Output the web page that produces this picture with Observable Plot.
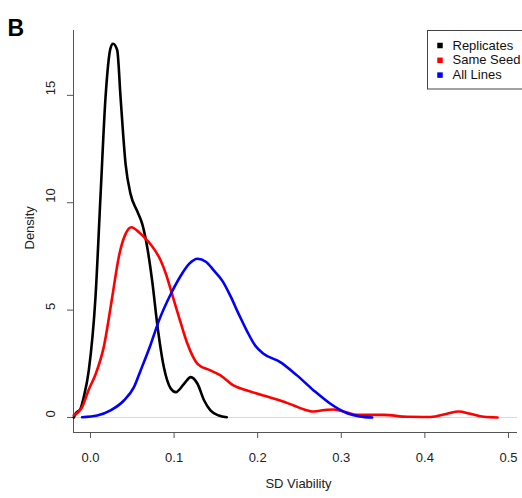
<!DOCTYPE html>
<html><head><meta charset="utf-8">
<script src="https://cdn.jsdelivr.net/npm/d3@7"></script>
<script src="https://cdn.jsdelivr.net/npm/@observablehq/plot@0.6"></script>
<style>html,body{margin:0;padding:0;background:#fff;overflow:hidden}</style>
</head><body><div id="chart"></div>
<script>
const seriesNames = ["Replicates", "Same Seed", "All Lines"];
const seriesColors = ["#000000", "#ff0000", "#0000ff"];

const replicatesX = [-0.020, -0.018, -0.012, -0.008, -0.002, 0.006, 0.012, 0.018, 0.024, 0.027, 0.032, 0.036, 0.042, 0.048, 0.056, 0.062, 0.068, 0.074, 0.080, 0.088, 0.096, 0.102, 0.112, 0.120, 0.128, 0.136, 0.1435, 0.1535, 0.163];
const replicatesY = [0.0, 0.17, 0.4, 0.95, 2.19, 5.6, 10.3, 14.9, 17.2, 17.4, 17.1, 14.9, 11.8, 10.4, 9.6, 9.0, 7.9, 6.3, 4.3, 2.3, 1.35, 1.18, 1.57, 1.88, 1.57, 0.79, 0.33, 0.09, 0.01];

const sameSeedX = [-0.020, -0.010, -0.002, 0.006, 0.016, 0.026, 0.034, 0.042, 0.049, 0.058, 0.068, 0.076, 0.084, 0.091, 0.097, 0.108, 0.116, 0.128, 0.1435, 0.1555, 0.171, 0.1875, 0.207, 0.227, 0.243, 0.255, 0.267, 0.283, 0.291, 0.305, 0.319, 0.351, 0.379, 0.407, 0.4265, 0.4405, 0.4545, 0.4705, 0.487];
const sameSeedY = [0.1, 0.48, 1.3, 2.0, 3.3, 5.6, 7.5, 8.55, 8.86, 8.63, 8.24, 7.85, 7.31, 6.6, 5.82, 4.4, 3.43, 2.5, 2.19, 1.96, 1.49, 1.26, 1.02, 0.79, 0.56, 0.38, 0.28, 0.36, 0.37, 0.25, 0.12, 0.12, 0.03, 0.02, 0.17, 0.28, 0.17, 0.03, 0.0];

const allLinesX = [-0.010, 0.008, 0.024, 0.040, 0.052, 0.060, 0.072, 0.082, 0.097, 0.108, 0.118, 0.128, 0.138, 0.1475, 0.158, 0.1675, 0.1775, 0.1875, 0.197, 0.207, 0.227, 0.247, 0.267, 0.287, 0.307, 0.322, 0.337];
const allLinesY = [0.01, 0.09, 0.33, 0.79, 1.41, 2.19, 3.4, 4.52, 5.82, 6.6, 7.15, 7.39, 7.25, 6.85, 6.35, 5.65, 4.8, 4.0, 3.35, 2.97, 2.58, 1.96, 1.26, 0.64, 0.2, 0.05, 0.0];

const xTicks = [0, 0.1, 0.2, 0.3, 0.4, 0.5];
const xTickLabels = ["0.0", "0.1", "0.2", "0.3", "0.4", "0.5"];
const yTicks = [0, 5, 10, 15];
const yTickLabels = ["0", "5", "10", "15"];

const seriesXs = [replicatesX, sameSeedX, allLinesX];
const seriesYs = [replicatesY, sameSeedY, allLinesY];
const rows = [];
seriesNames.forEach((name, s) => {
  seriesXs[s].forEach((x, i) => rows.push({series: name, x, y: seriesYs[s][i]}));
});

const xDomain = [-0.0203, 0.5108];
const yDomain = [-0.70, 18.02];

const legendBox = (index, scales, values, dims) => {
  const g = d3.create("svg:g");
  const left = dims.width - dims.marginRight - 90;
  g.append("rect")
    .attr("x", left + 0.5).attr("y", dims.marginTop + 0.5)
    .attr("width", 120).attr("height", 58.5)
    .attr("fill", "none").attr("stroke", "#444").attr("stroke-width", 1);
  return g.node();
};

const legendMarks = seriesNames.flatMap((name, i) => [
  Plot.dot([name], {frameAnchor: "top-right", dx: -77.5, dy: 15 + i * 14.8, symbol: "square", r: 3.1, fill: seriesColors[i], stroke: null}),
  Plot.text([name], {frameAnchor: "top-right", dx: -65, dy: 15 + i * 14.8, text: d => d, textAnchor: "start", lineAnchor: "middle", fontSize: 13, fill: "#111"})
]);

const chart = Plot.plot({
  width: 522, height: 498,
  marginLeft: 73, marginRight: 5, marginTop: 30, marginBottom: 66,
  x: {domain: xDomain},
  y: {domain: yDomain},
  color: {domain: seriesNames, range: seriesColors},
  style: {fontFamily: "'Liberation Sans', Arial, Helvetica, sans-serif", fontSize: "13px", background: "#fff", color: "#222", overflow: "hidden"},
  marks: [
    Plot.ruleY([0], {stroke: "#d8d8d8", strokeWidth: 1}),
    Plot.ruleX([xDomain[0]], {stroke: "#555"}),
    Plot.ruleY([yDomain[0]], {stroke: "#555"}),
    Plot.axisX({ticks: xTicks, tickSize: 6, tickPadding: 14, tickFormat: d => xTickLabels[xTicks.indexOf(d)], stroke: "#555", label: null, fontSize: 13}),
    Plot.axisY({ticks: yTicks, tickSize: 6, tickFormat: () => "", stroke: "#555", label: null}),
    Plot.text(yTicks, {y: d => d, text: (d, i) => yTickLabels[i], frameAnchor: "left", dx: -23, rotate: -90, fontSize: 13, fill: "#222"}),
    Plot.text(["Density"], {frameAnchor: "left", dx: -44, dy: 18, rotate: -90, fontSize: 13, fill: "#222"}),
    Plot.text(["SD Viability"], {frameAnchor: "bottom", dy: 55, dx: 3, fontSize: 13, fill: "#222"}),
    Plot.text(["B"], {frameAnchor: "top-left", dx: -66, dy: -11, textAnchor: "start", fontSize: 23, fontWeight: "bold", fill: "#000"}),
    Plot.line(rows, {x: "x", y: "y", z: "series", stroke: "series", strokeWidth: 2.6, curve: "monotone-x"}),
    legendBox,
    ...legendMarks
  ]
});
document.getElementById("chart").appendChild(chart);
</script>
</body></html>
